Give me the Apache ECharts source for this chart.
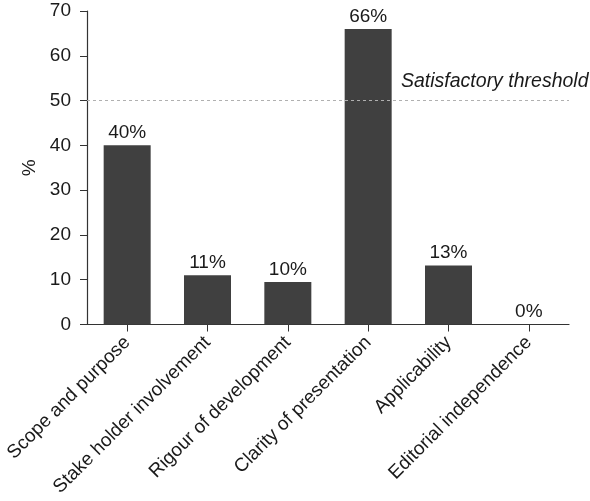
<!DOCTYPE html>
<html>
<head>
<meta charset="utf-8">
<script src="https://cdn.jsdelivr.net/npm/echarts@6/dist/echarts.min.js"></script>
<style>html,body{margin:0;padding:0;background:#fff}#c{width:590px;height:501px}</style>
</head>
<body>
<div id="c"></div>
<script>
const categories = ['Scope and purpose', 'Stake holder involvement', 'Rigour of development', 'Clarity of presentation', 'Applicability', 'Editorial independence'];
const values = [40, 11, 9.5, 66, 13.2, 0];
const valueLabels = ['40%', '11%', '10%', '66%', '13%', '0%'];
const yTicks = [0, 10, 20, 30, 40, 50, 60, 70];
const threshold = 50;
const thresholdLabel = 'Satisfactory threshold';

const font = 'Liberation Sans, Arial, Helvetica, sans-serif';
const chart = echarts.init(document.getElementById('c'), null, {renderer: 'canvas'});
chart.setOption({
  animation: false,
  grid: {left: 87, right: 21, top: 11, bottom: 176.5, containLabel: false},
  xAxis: {
    type: 'category',
    data: categories,
    axisLine: {lineStyle: {color: '#333', width: 1.2}},
    axisTick: {show: true, alignWithLabel: true, length: 7, lineStyle: {color: '#333'}},
    axisLabel: {rotate: 45, margin: 15, color: '#1a1a1a', fontSize: 19, fontFamily: font, interval: 0}
  },
  yAxis: {
    type: 'value',
    min: yTicks[0], max: yTicks[yTicks.length - 1], interval: 10,
    name: '%', nameLocation: 'middle', nameGap: 48, nameRotate: 90,
    nameTextStyle: {fontSize: 19, color: '#1a1a1a', fontFamily: font},
    axisLine: {show: true, lineStyle: {color: '#333', width: 1.2}},
    axisTick: {show: true, length: 7, lineStyle: {color: '#333'}},
    axisLabel: {margin: 16, color: '#1a1a1a', fontSize: 19, fontFamily: font},
    splitLine: {show: false}
  },
  series: [{
    type: 'bar',
    data: values,
    barWidth: 47,
    itemStyle: {color: '#404040'},
    label: {
      show: true, position: 'top', distance: 3,
      fontSize: 19, color: '#1a1a1a', fontFamily: font,
      formatter: p => valueLabels[p.dataIndex]
    },
    markLine: {
      silent: true, symbol: 'none',
      lineStyle: {type: [3, 3], color: '#b0b0b0', width: 1},
      label: {show: false},
      data: [{yAxis: threshold}]
    }
  }],
  graphic: [{
    type: 'text', left: 401, top: 72,
    style: {text: thresholdLabel, fontSize: 19.5, fontStyle: 'italic', fontFamily: font, fill: '#1a1a1a'}
  }]
});
</script>
</body>
</html>
